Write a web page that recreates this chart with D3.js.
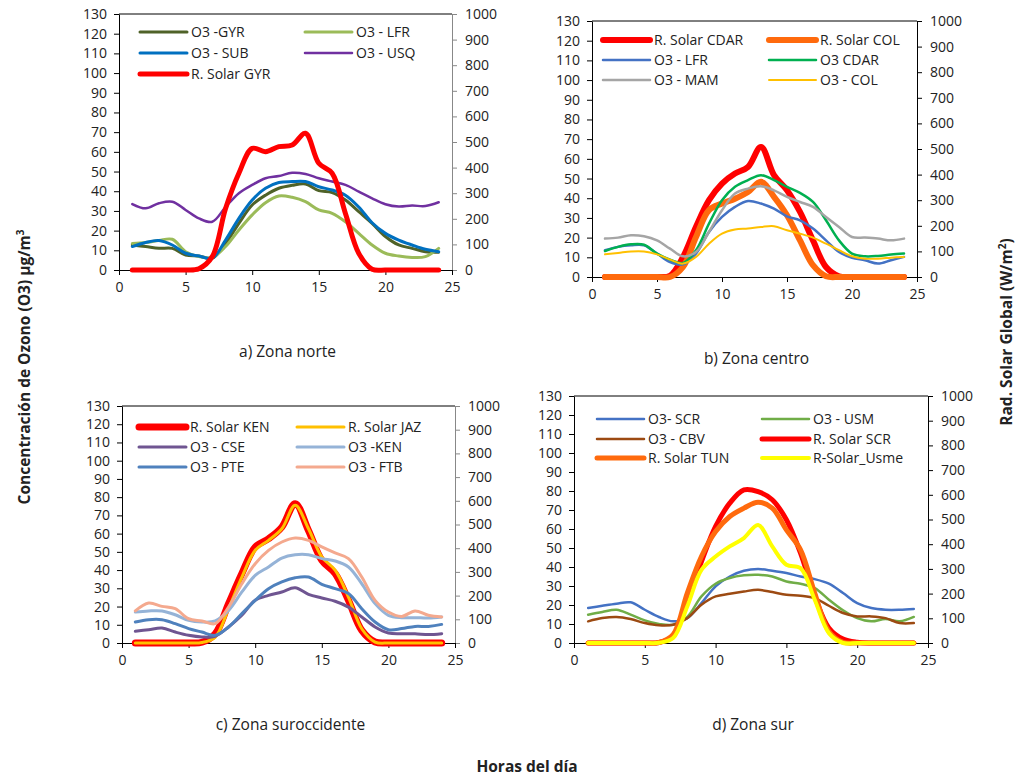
<!DOCTYPE html>
<html>
<head>
<meta charset="utf-8">
<script src="https://cdn.jsdelivr.net/npm/d3@7"></script>
<style>
  body { margin: 0; background: #fff; }
  svg text { font-family: "Open Sans", sans-serif; }
</style>
</head>
<body>
<svg width="1020" height="776"></svg>
<script>
// hours of the day and axis ticks
const HOURS = [1, 2, 3, 4, 5, 6, 7, 8, 9, 10, 11, 12, 13, 14, 15, 16, 17, 18, 19, 20, 21, 22, 23, 24]
const X_TICKS = [0, 5, 10, 15, 20, 25]
const O3_TICKS = [0, 10, 20, 30, 40, 50, 60, 70, 80, 90, 100, 110, 120, 130]
const RAD_TICKS = [0, 100, 200, 300, 400, 500, 600, 700, 800, 900, 1000]

// a) zona norte
const o3GYR = [12.7, 11.9, 11, 11, 7.6, 7.1, 6, 13.5, 23.7, 33, 38, 41.5, 43, 43.7, 40.3, 39.3, 35.5, 29.6, 23.7, 17, 12.7, 11, 9.3, 9]
const o3LFRnorte = [13.5, 14, 15, 15.6, 9.3, 6.8, 6.4, 11.9, 20.3, 28, 34.2, 37.6, 36.9, 34.7, 30.5, 28.8, 24.5, 18.6, 12.7, 8.5, 7.1, 6.4, 6.8, 11]
const o3SUB = [11.9, 14, 15, 12.7, 8.5, 7.1, 6, 15.2, 26.2, 35.5, 41.5, 44.4, 44.9, 44.9, 42.3, 40.6, 38, 32, 24, 18.6, 15.2, 12.7, 10.5, 9.3]
const o3USQ = [33.5, 31.3, 33.9, 34.7, 30.5, 26.2, 24.5, 32, 39, 43.2, 46.6, 47.7, 49.4, 48.8, 46.6, 44.9, 43.2, 39.8, 36.4, 33.4, 32.2, 32.7, 32.5, 34.4]
const solarGYR = [0, 0, 0, 0, 0, 5, 52, 240, 378, 475, 462, 482, 488, 534, 417, 378, 221, 65, 3, 0, 0, 0, 0, 0]

// b) zona centro
const solarCDAR = [0, 0, 0, 0, 0, 5, 78, 196, 300, 365, 404, 430, 508, 398, 339, 254, 143, 39, 3, 0, 0, 0, 0, 0]
const solarCOL = [0, 0, 0, 0, 0, 0, 39, 156, 261, 287, 306, 332, 372, 313, 241, 143, 46, 3, 0, 0, 0, 0, 0, 0]
const o3LFRcentro = [13.6, 15.3, 16.1, 16.1, 11.9, 7.6, 6.4, 11.9, 22.9, 30.5, 35.6, 38.6, 37.3, 34.7, 30.8, 28.8, 24.6, 18.6, 12.7, 9.8, 8.5, 6.8, 8.5, 10.2]
const o3CDAR = [13.2, 15.3, 16.6, 16.4, 11.9, 8.8, 7.1, 13.6, 27.1, 39, 45.8, 49.2, 51.7, 49.2, 45.8, 42.7, 38.1, 28.8, 18.6, 11.9, 10.5, 10.7, 11.4, 11.9]
const o3MAM = [19.5, 20, 21.2, 20.7, 18.6, 14.4, 10.5, 12.7, 22.9, 33.9, 42.4, 44.9, 46.1, 44, 40.7, 38.1, 35.6, 30.5, 25.4, 20.3, 20, 19.5, 18.6, 19.5]
const o3COL = [11.5, 12.2, 13, 13, 11.5, 8.8, 6.8, 10.2, 16.9, 22, 24.1, 24.6, 25.4, 25.8, 23.7, 22, 20, 16.9, 13.6, 10.5, 9.3, 9.3, 9.8, 10.2]

// c) zona suroccidente
const solarKEN = [0, 0, 0, 0, 0, 3, 39, 166, 293, 405, 440, 489, 588, 475, 349, 293, 180, 53, 4, 0, 0, 0, 0, 0]
const solarJAZ = [0, 0, 0, 0, 0, 2, 25, 145, 278, 391, 433, 482, 581, 482, 363, 307, 194, 60, 4, 0, 0, 0, 0, 0]
const o3CSE = [6.4, 7.3, 8.2, 6, 4.2, 3.3, 3.7, 8.8, 15.2, 23.4, 26.1, 28, 30.3, 26.7, 24.7, 22.9, 19.7, 14.3, 8.8, 5.5, 5.1, 5.1, 4.6, 5.1]
const o3KEN = [17, 17.6, 17.6, 15.5, 12.4, 11.5, 12.1, 17.9, 28, 37.1, 41.7, 46.6, 48.4, 48.4, 46.3, 45, 41.7, 32.5, 21.6, 15.2, 13.9, 13.9, 13.7, 14.3]
const o3PTE = [11.5, 12.8, 12.8, 10.6, 7.9, 6, 4.2, 8.8, 16.1, 23.4, 29.8, 33.5, 35.8, 36.2, 32.2, 29.8, 27.1, 18.8, 11.5, 7.3, 7.9, 9.1, 9.1, 10.2]
const o3FTB = [17.6, 21.9, 20.1, 18.8, 13.3, 12.1, 10.6, 19.7, 32.5, 43.5, 50.8, 55.4, 57.6, 56.3, 52.7, 49.4, 46.3, 36.2, 23.4, 17, 14.6, 17.6, 15.2, 14.3]

// d) zona sur
const o3SCR = [18.4, 19.6, 20.7, 21.4, 17.5, 13.7, 11.4, 13.1, 21, 29.8, 35, 38, 38.9, 38, 36.8, 35, 33.6, 31.2, 26.3, 21, 18.4, 17.5, 17.5, 17.9]
const o3USM = [14.9, 16.3, 17.5, 14.9, 11.9, 10, 9.6, 13.7, 24.5, 31.2, 34.2, 35.6, 35.9, 35, 32.4, 31.2, 28.9, 22.8, 17.2, 13.1, 11.4, 12.6, 11.4, 13.7]
const o3CBV = [11.4, 13.1, 13.7, 12.6, 10.5, 9.3, 9.6, 13.1, 20.1, 24.5, 25.9, 27.1, 28, 26.8, 25.4, 24.9, 23.6, 19.6, 15.8, 14, 14, 13.1, 10.5, 10.5]
const solarSCR = [0, 0, 0, 0, 0, 2, 27, 175, 330, 472, 566, 620, 613, 580, 499, 364, 189, 61, 16, 3, 0, 0, 0, 0]
const solarTUN = [0, 0, 0, 0, 0, 2, 34, 202, 350, 451, 512, 546, 570, 546, 458, 377, 202, 47, 3, 0, 0, 0, 0, 0]
const solarUsme = [0, 0, 0, 0, 0, 1, 20, 148, 296, 350, 391, 425, 478, 391, 317, 303, 175, 40, 0, 0, 0, 0, 0, 0]

const panels = [
  {
    caption: 'a) Zona norte', box: { left: 119, right: 452, top: 14, bottom: 270 },
    legend: { cols: [140, 305], rows: [32, 53, 74] }, rightAxisColor: '#888',
    series: [
      { name: 'O3 -GYR', values: o3GYR, color: '#4F6228', width: 3 },
      { name: 'O3 - LFR', values: o3LFRnorte, color: '#9BBB59', width: 3 },
      { name: 'O3 - SUB', values: o3SUB, color: '#0070C0', width: 3 },
      { name: 'O3 - USQ', values: o3USQ, color: '#7030A0', width: 2.5 },
      { name: 'R. Solar GYR', values: solarGYR, color: '#FF0000', width: 5, rad: true }
    ]
  },
  {
    caption: 'b) Zona centro', box: { left: 592, right: 917, top: 21, bottom: 277 },
    legend: { cols: [603, 769], rows: [40, 60, 80] }, rightAxisColor: '#000',
    series: [
      { name: 'R. Solar CDAR', values: solarCDAR, color: '#FF0000', width: 6, rad: true },
      { name: 'R. Solar COL', values: solarCOL, color: '#FF6A0D', width: 6, rad: true },
      { name: 'O3 - LFR', values: o3LFRcentro, color: '#4472C4', width: 2.5 },
      { name: 'O3 CDAR', values: o3CDAR, color: '#00B050', width: 2.5 },
      { name: 'O3 - MAM', values: o3MAM, color: '#A5A5A5', width: 2.5 },
      { name: 'O3 - COL', values: o3COL, color: '#FFC000', width: 2 }
    ]
  },
  {
    caption: 'c) Zona suroccidente', box: { left: 122, right: 455, top: 406, bottom: 643 },
    legend: { cols: [139, 297], rows: [427, 447, 467] }, rightAxisColor: '#888',
    series: [
      { name: 'R. Solar KEN', values: solarKEN, color: '#FF0000', width: 7, rad: true },
      { name: 'R. Solar JAZ', values: solarJAZ, color: '#FFC000', width: 3, rad: true },
      { name: 'O3 - CSE', values: o3CSE, color: '#6F5591', width: 3 },
      { name: 'O3 -KEN', values: o3KEN, color: '#95B3D7', width: 3 },
      { name: 'O3 - PTE', values: o3PTE, color: '#4F81BD', width: 3 },
      { name: 'O3 - FTB', values: o3FTB, color: '#F4A98E', width: 3 }
    ]
  },
  {
    caption: 'd) Zona sur', box: { left: 574, right: 928, top: 396, bottom: 643 },
    legend: { cols: [597, 762], rows: [419, 439, 458] }, rightAxisColor: '#000',
    series: [
      { name: 'O3- SCR', values: o3SCR, color: '#4472C4', width: 2.5 },
      { name: 'O3 - USM', values: o3USM, color: '#70AD47', width: 2.5 },
      { name: 'O3 - CBV', values: o3CBV, color: '#9C4A12', width: 2.5 },
      { name: 'R. Solar SCR', values: solarSCR, color: '#FF0000', width: 5, rad: true },
      { name: 'R. Solar TUN', values: solarTUN, color: '#FF6A0D', width: 5, rad: true },
      { name: 'R-Solar_Usme', values: solarUsme, color: '#FFFF00', width: 4, rad: true }
    ]
  }
]

const svg = d3.select('svg')
const FONT = 14

function styleAxis(g) {
  g.attr('font-family', '"Open Sans", sans-serif').attr('font-size', FONT)
  g.selectAll('text').attr('fill', '#222')
}

panels.forEach(p => {
  const b = p.box
  const g = svg.append('g')

  const x = d3.scaleLinear().domain([0, 25]).range([b.left, b.right])
  const yL = d3.scaleLinear().domain([0, 130]).range([b.bottom, b.top])
  const yR = d3.scaleLinear().domain([0, 1000]).range([b.bottom, b.top])

  // top frame line
  g.append('line')
    .attr('x1', b.left).attr('x2', b.right)
    .attr('y1', b.top).attr('y2', b.top)
    .attr('stroke', '#000')

  // right axis - radiation
  g.append('g')
    .attr('transform', `translate(${b.right},0)`)
    .call(d3.axisRight(yR).tickValues(RAD_TICKS).tickFormat(d3.format('d'))
      .tickSize(5).tickSizeOuter(0).tickPadding(8))
    .call(styleAxis)
    .call(a => a.selectAll('path, line').attr('stroke', p.rightAxisColor))

  // left axis - ozone
  g.append('g')
    .attr('transform', `translate(${b.left},0)`)
    .call(d3.axisLeft(yL).tickValues(O3_TICKS).tickSize(5).tickSizeOuter(0).tickPadding(7))
    .call(styleAxis)

  // x axis - hours
  g.append('g')
    .attr('transform', `translate(0,${b.bottom})`)
    .call(d3.axisBottom(x).tickValues(X_TICKS).tickSize(5).tickSizeOuter(0).tickPadding(7))
    .call(styleAxis)

  // series lines
  p.series.forEach(s => {
    const y = s.rad ? yR : yL
    const line = d3.line()
      .x((d, i) => x(HOURS[i]))
      .y(d => y(d))
      .curve(d3.curveCatmullRom.alpha(0.5))
    g.append('path')
      .datum(s.values)
      .attr('d', line)
      .attr('fill', 'none')
      .attr('stroke', s.color)
      .attr('stroke-width', s.width)
      .attr('stroke-linejoin', 'round')
      .attr('stroke-linecap', 'round')
  })

  // legend, row by row in two columns
  p.series.forEach((s, i) => {
    const lx = p.legend.cols[i % 2]
    const ly = p.legend.rows[Math.floor(i / 2)]
    g.append('line')
      .attr('x1', lx).attr('x2', lx + 47)
      .attr('y1', ly).attr('y2', ly)
      .attr('stroke', s.color)
      .attr('stroke-width', s.width)
      .attr('stroke-linecap', 'round')
    g.append('text')
      .attr('x', lx + 51).attr('y', ly)
      .attr('dy', '0.35em')
      .attr('font-size', FONT)
      .attr('fill', '#222')
      .text(s.name)
  })

  // caption
  g.append('text')
    .attr('x', (b.left + b.right) / 2 + 2)
    .attr('y', b.bottom + 87)
    .attr('text-anchor', 'middle')
    .attr('font-size', 15.5)
    .attr('fill', '#222')
    .text(p.caption)
})

// shared axis titles
svg.append('text')
  .attr('x', 527).attr('y', 772)
  .attr('text-anchor', 'middle')
  .attr('font-size', 15.5)
  .attr('font-weight', 'bold')
  .attr('fill', '#222')
  .text('Horas del día')

const leftTitle = svg.append('text')
  .attr('transform', 'translate(30,367) rotate(-90)')
  .attr('text-anchor', 'middle')
  .attr('font-size', 15.5)
  .attr('font-weight', 'bold')
  .attr('fill', '#222')
leftTitle.append('tspan').text('Concentración de Ozono (O3) µg/m')
leftTitle.append('tspan').attr('dy', -6).attr('font-size', 10).text('3')

const rightTitle = svg.append('text')
  .attr('transform', 'translate(1012,332) rotate(-90)')
  .attr('text-anchor', 'middle')
  .attr('font-size', 15.5)
  .attr('font-weight', 'bold')
  .attr('fill', '#222')
rightTitle.append('tspan').text('Rad. Solar Global (W/m')
rightTitle.append('tspan').attr('dy', -6).attr('font-size', 10).text('2')
rightTitle.append('tspan').attr('dy', 6).text(')')
</script>
</body>
</html>
